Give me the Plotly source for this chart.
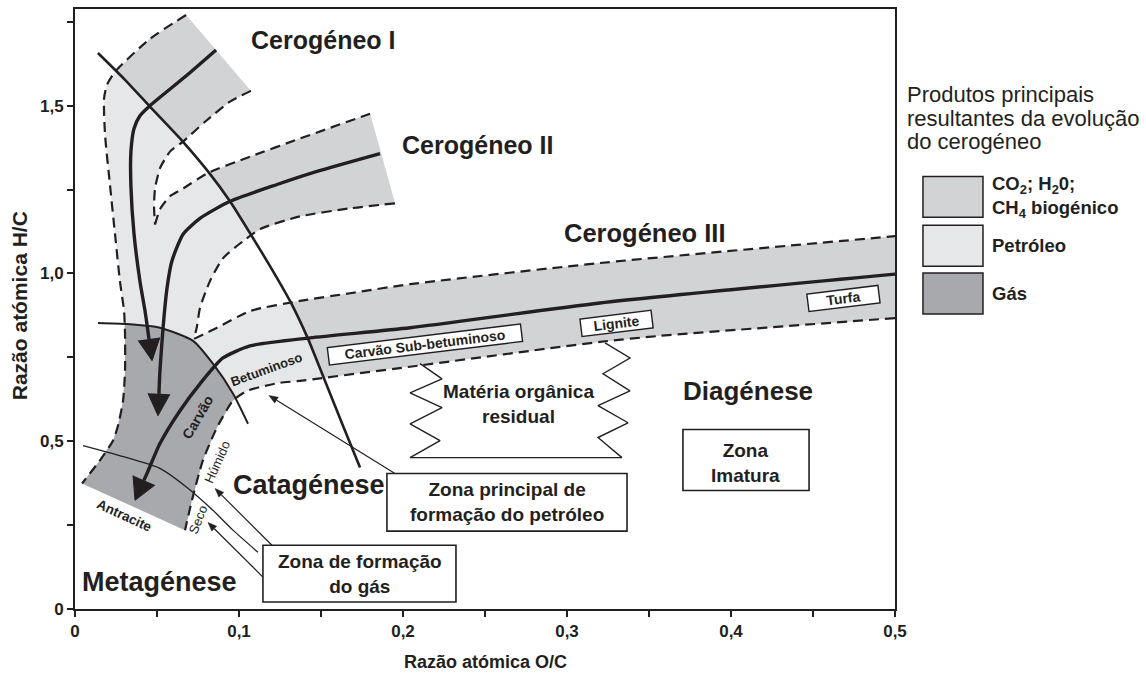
import math
import plotly.graph_objects as go

# ---------------------------------------------------------------------------
# Van Krevelen diagram: evolution paths of kerogen types I, II and III
# All coordinates are (O/C, H/C) atomic ratios.
# ---------------------------------------------------------------------------

# band boundaries (dashed)
type1_outer = [(0.0677, 1.770), (0.0457, 1.699), (0.0244, 1.601), (0.0195, 1.562),
               (0.0177, 1.521), (0.0183, 1.414), (0.0213, 1.265), (0.0244, 1.117),
               (0.0274, 0.977), (0.0299, 0.888), (0.0305, 0.820), (0.0305, 0.710),
               (0.0293, 0.621), (0.0262, 0.546), (0.0232, 0.502), (0.0152, 0.443),
               (0.0043, 0.374)]
type1_inner = [(0.1073, 1.544), (0.0945, 1.512), (0.0793, 1.452), (0.0659, 1.393),
               (0.0579, 1.363), (0.0518, 1.313), (0.0488, 1.253), (0.0482, 1.200),
               (0.0488, 1.146)]
type2_upper = [(0.0488, 1.146), (0.0518, 1.191), (0.0579, 1.230), (0.0659, 1.253),
               (0.0805, 1.298), (0.1067, 1.348), (0.1372, 1.402), (0.1799, 1.476)]
type2_lower = [(0.1951, 1.209), (0.1677, 1.194), (0.1372, 1.170), (0.1128, 1.132),
               (0.1024, 1.096), (0.0902, 1.045), (0.0823, 0.977), (0.0762, 0.897),
               (0.0744, 0.843), (0.0726, 0.805)]
type3_upper = [(0.0726, 0.805), (0.0866, 0.838), (0.1067, 0.888), (0.1372, 0.918),
               (0.1677, 0.941), (0.2043, 0.968), (0.3201, 1.031), (0.5000, 1.111)]
type3_lower = [(0.5000, 0.867), (0.3567, 0.814), (0.3201, 0.796), (0.2043, 0.722),
               (0.1372, 0.680), (0.1250, 0.674), (0.1159, 0.665), (0.1049, 0.650),
               (0.0963, 0.621), (0.0866, 0.541), (0.0780, 0.443), (0.0713, 0.324),
               (0.0671, 0.235)]

# evolution paths (solid, ending in arrows)
path_type1 = [(0.0860, 1.666), (0.0671, 1.586), (0.0457, 1.500), (0.0396, 1.470),
              (0.0360, 1.432), (0.0341, 1.363), (0.0341, 1.259), (0.0360, 1.117),
              (0.0396, 0.977), (0.0427, 0.888), (0.0470, 0.740)]
path_type2 = [(0.1860, 1.357), (0.1476, 1.304), (0.1232, 1.265), (0.0945, 1.215),
              (0.0762, 1.164), (0.0659, 1.117), (0.0591, 1.037), (0.0561, 0.956),
              (0.0537, 0.838), (0.0518, 0.710), (0.0506, 0.576)]
path_type3 = [(0.5000, 0.998), (0.3201, 0.912), (0.2043, 0.838), (0.1433, 0.808),
              (0.1067, 0.784), (0.0902, 0.748), (0.0762, 0.671), (0.0640, 0.591),
              (0.0518, 0.493), (0.0439, 0.404), (0.0366, 0.324)]

# zone limits
oil_window_limit = [(0.0140, 1.657), (0.0305, 1.577), (0.0457, 1.497), (0.0652, 1.396),
                    (0.0811, 1.304), (0.0945, 1.215), (0.1067, 1.120), (0.1189, 1.022),
                    (0.1311, 0.918), (0.1421, 0.805), (0.1524, 0.680), (0.1634, 0.546),
                    (0.1738, 0.422)]
gas_zone_limit = [(0.0140, 0.852), (0.0317, 0.849), (0.0518, 0.838), (0.0720, 0.799),
                  (0.0841, 0.731), (0.0963, 0.642), (0.1055, 0.552)]
wet_dry_limit = [(0.0049, 0.487), (0.0317, 0.451), (0.0518, 0.419), (0.0683, 0.362),
                 (0.0841, 0.294), (0.0963, 0.235), (0.1116, 0.169)]

# residual organic matter outline
residual_outline = [(0.2104, 0.731), (0.2238, 0.686), (0.2043, 0.644), (0.2238, 0.600),
                    (0.2043, 0.552), (0.2226, 0.502), (0.2043, 0.451), (0.3335, 0.451),
                    (0.3189, 0.511), (0.3372, 0.555), (0.3189, 0.606), (0.3384, 0.650),
                    (0.3220, 0.701), (0.3384, 0.748), (0.3232, 0.793)]

# pointer arrows (tail -> head)
oil_pointer = [(0.1951, 0.404), (0.1183, 0.636)]
gas_pointers = [[(0.1201, 0.190), (0.0854, 0.359)],
                [(0.1146, 0.095), (0.0811, 0.258)]]

x_ticks = [0, 0.1, 0.2, 0.3, 0.4, 0.5]
x_tick_text = ["0", "0,1", "0,2", "0,3", "0,4", "0,5"]
y_ticks = [0, 0.5, 1.0, 1.5]
y_tick_text = ["0", "0,5", "1,0", "1,5"]

legend_items = ["CO<sub>2</sub>; H<sub>2</sub>0;<br>CH<sub>4</sub> biogénico", "Petróleo", "Gás"]

# ---------------------------------------------------------------------------
FONT = "Liberation Sans, Arial, Helvetica, sans-serif"
INK = "#231f20"
GREY_MID = "#d1d3d4"
GREY_LIGHT = "#e6e7e8"
GREY_DARK = "#a7a9ac"

W, H = 1146, 677
MARGIN = dict(l=75, r=251, t=7, b=68)
X_RANGE = [0, 0.5]
Y_RANGE = [0, 1.788]
SX = (W - MARGIN["l"] - MARGIN["r"]) / (X_RANGE[1] - X_RANGE[0])
SY = (H - MARGIN["t"] - MARGIN["b"]) / (Y_RANGE[1] - Y_RANGE[0])


def seg_cross(p1, p2, q1, q2):
    d = (p2[0] - p1[0]) * (q2[1] - q1[1]) - (p2[1] - p1[1]) * (q2[0] - q1[0])
    if d == 0:
        return None
    t = ((q1[0] - p1[0]) * (q2[1] - q1[1]) - (q1[1] - p1[1]) * (q2[0] - q1[0])) / d
    u = ((q1[0] - p1[0]) * (p2[1] - p1[1]) - (q1[1] - p1[1]) * (p2[0] - p1[0])) / d
    if -1e-9 <= t <= 1 + 1e-9 and -1e-9 <= u <= 1 + 1e-9:
        return (p1[0] + t * (p2[0] - p1[0]), p1[1] + t * (p2[1] - p1[1]))
    return None


def crossing(P, Q):
    for i in range(len(P) - 1):
        for j in range(len(Q) - 1):
            pt = seg_cross(P[i], P[i + 1], Q[j], Q[j + 1])
            if pt is not None:
                return i, j, pt
    raise ValueError("curves do not cross")


def xs(pts):
    return [p[0] for p in pts]


def ys(pts):
    return [p[1] for p in pts]


def arrow_head(curve, length=22, half=11):
    (x0, y0), (x1, y1) = curve[-2], curve[-1]
    dx, dy = (x1 - x0) * SX, (y1 - y0) * SY
    n = math.hypot(dx, dy)
    ux, uy = dx / n, dy / n
    bx, by = x1 * SX - ux * length, y1 * SY - uy * length
    base = (bx / SX, by / SY)
    c1 = ((bx - uy * half) / SX, (by + ux * half) / SY)
    c2 = ((bx + uy * half) / SX, (by - ux * half) / SY)
    return base, [c1, (x1, y1), c2]


fig = go.Figure()


def fill_poly(pts, color, line_width=0, line_color=None):
    fig.add_trace(go.Scatter(x=xs(pts), y=ys(pts), mode="lines", fill="toself",
                             fillcolor=color,
                             line=dict(width=line_width, color=line_color or color),
                             hoverinfo="skip", showlegend=False))


def stroke(pts, width, dash="solid", color=INK, shape="spline"):
    fig.add_trace(go.Scatter(x=xs(pts), y=ys(pts), mode="lines",
                             line=dict(width=width, color=color, dash=dash,
                                       shape=shape, smoothing=0.6),
                             hoverinfo="skip", showlegend=False))


# whole band (oil colour)
band = (type1_outer + type3_lower[::-1] + type3_upper[::-1] + type2_lower[::-1]
        + type2_upper[::-1] + type1_inner[::-1])
fill_poly(band, GREY_LIGHT)

# immature parts (beyond the oil window limit)
i1, j1, p1 = crossing(type1_outer, oil_window_limit)
i2, j2, p2 = crossing(type1_inner, oil_window_limit)
fill_poly(type1_outer[:i1 + 1] + [p1] + oil_window_limit[j1 + 1:j2 + 1] + [p2]
          + type1_inner[:i2 + 1][::-1], GREY_MID)

i1, j1, p1 = crossing(type2_upper, oil_window_limit)
i2, j2, p2 = crossing(type2_lower, oil_window_limit)
fill_poly([p1] + type2_upper[i1 + 1:] + type2_lower[:i2 + 1] + [p2]
          + oil_window_limit[j1 + 1:j2 + 1][::-1], GREY_MID)

i1, j1, p1 = crossing(type3_upper, oil_window_limit)
i2, j2, p2 = crossing(type3_lower, oil_window_limit)
fill_poly([p1] + type3_upper[i1 + 1:] + type3_lower[:i2 + 1] + [p2]
          + oil_window_limit[j1 + 1:j2 + 1][::-1], GREY_MID)

# gas zone
a1, l1, q1 = crossing(gas_zone_limit, type1_outer)
a2, d2, q2 = crossing(gas_zone_limit, type3_lower)
fill_poly([q1] + gas_zone_limit[a1 + 1:a2 + 1] + [q2] + type3_lower[d2 + 1:]
          + type1_outer[l1 + 1:][::-1], GREY_DARK)

# dashed band limits
DASH = "10px,6px"
for curve in (type1_outer, type1_inner, type2_upper, type2_lower, type3_upper, type3_lower):
    stroke(curve, 2.2, DASH)

# zone limits
stroke(oil_window_limit, 2.6)
stroke(gas_zone_limit, 2.0)
stroke(wet_dry_limit, 1.3)

# evolution paths with arrow heads
for path, hl, hw in ((path_type1, 22, 11), (path_type2, 22, 11), (path_type3, 22, 12)):
    base, tri = arrow_head(path, hl, hw)
    stroke(path[:-1] + [base], 3.4)
    fill_poly(tri, INK, 1, INK)

# pointer arrows
for tail, head in [oil_pointer] + gas_pointers:
    base, tri = arrow_head([tail, head], 9, 3.5)
    stroke([tail, base], 1.2, shape="linear")
    fill_poly(tri, INK, 0.5, INK)

# residual organic matter
fig.add_trace(go.Scatter(x=xs(residual_outline), y=ys(residual_outline), mode="lines",
                         line=dict(width=1.4, color=INK), hoverinfo="skip",
                         showlegend=False))

annotations = []


def text(t, x, y, size, bold=True, angle=0, xref="x", yref="y", xanchor="center",
         yanchor="middle", color=INK, **kw):
    annotations.append(dict(text=t, x=x, y=y, xref=xref, yref=yref, showarrow=False,
                            xanchor=xanchor, yanchor=yanchor, textangle=angle,
                            font=dict(family=FONT, size=size, color=color,
                                      weight="bold" if bold else "normal"), **kw))


# titles of kerogen types and stages
text("Cerogéneo I", 0.1512, 1.696, 25)
text("Cerogéneo II", 0.2457, 1.384, 25)
text("Cerogéneo III", 0.3476, 1.120, 25.5)
text("Diagénese", 0.4104, 0.650, 26)
text("Catagénese", 0.1427, 0.371, 27)
text("Metagénese", 0.0518, 0.080, 27)
text("Matéria orgânica<br>residual", 0.2707, 0.612, 19)

# labels along the paths
text("Betuminoso", 0.1165, 0.713, 13, angle=-20)
text("Carvão", 0.0744, 0.570, 14, angle=-60)
text("Húmido", 0.0866, 0.437, 13, bold=False, angle=-66)
text("Seco", 0.0750, 0.267, 13, bold=False, angle=-68)
text("Antracite", 0.0299, 0.279, 13.5, angle=25)

# coal rank boxes
for t, x, y, w in (("Carvão Sub-betuminoso", 0.2134, 0.787, 193),
                   ("Lignite", 0.3299, 0.852, 70),
                   ("Turfa", 0.4683, 0.924, 70)):
    text(t, x, y, 14, angle=-7, bgcolor="white", bordercolor=INK, borderwidth=1.4,
         borderpad=0, width=w, height=16)

# zone boxes
shapes = []
for x0, x1, y0, y1 in ((0.1902, 0.3366, 0.232, 0.404),
                       (0.1146, 0.2323, 0.021, 0.190),
                       (0.3707, 0.4476, 0.353, 0.535)):
    shapes.append(dict(type="rect", xref="x", yref="y", x0=x0, x1=x1, y0=y0, y1=y1,
                       line=dict(color=INK, width=1.6), fillcolor="white", layer="above"))
text("Zona principal de<br>formação do petróleo", 0.2634, 0.318, 19)
text("Zona de formação<br>do gás", 0.1738, 0.104, 19)
text("Zona<br>Imatura", 0.4091, 0.434, 19)

# axis titles
text("Razão atómica O/C", 0.5, -0.088, 18, xref="paper", yref="paper")
text("Razão atómica H/C", -0.068, 0.505, 21, angle=-90, xref="paper", yref="paper")

# legend
for line, py in (("Produtos principais", 0.8571), ("resultantes da evolução", 0.8173),
                 ("do cerogéneo", 0.7791)):
    text(line, 1.0122, py, 22, bold=False, xref="paper", yref="paper", xanchor="left")
box_rows = [(0.6528, 0.7209), (0.5714, 0.6395), (0.4917, 0.5598)]
for (y0, y1), label, color in zip(box_rows, legend_items, (GREY_MID, GREY_LIGHT, GREY_DARK)):
    shapes.append(dict(type="rect", xref="paper", yref="paper", x0=1.0341, x1=1.1073,
                       y0=y0, y1=y1, line=dict(color=INK, width=1.5), fillcolor=color))
    text(label, 1.1159, (y0 + y1) / 2, 18.5, xref="paper", yref="paper", xanchor="left",
         align="left")

axis_common = dict(showgrid=False, zeroline=False, showline=True, mirror=True,
                   linecolor=INK, linewidth=2, ticks="outside", ticklen=6,
                   tickwidth=1.5, tickcolor=INK,
                   tickfont=dict(family=FONT, size=17, color=INK, weight="bold"))

fig.update_layout(
    width=W, height=H, margin=MARGIN,
    paper_bgcolor="white", plot_bgcolor="white",
    showlegend=False,
    xaxis=dict(range=X_RANGE, tickvals=x_ticks, ticktext=x_tick_text,
               minor=dict(dtick=0.05, tick0=0, ticks="outside", ticklen=6,
                          tickwidth=1.5, tickcolor=INK), **axis_common),
    yaxis=dict(range=Y_RANGE, tickvals=y_ticks, ticktext=y_tick_text,
               minor=dict(dtick=0.25, tick0=0, ticks="outside", ticklen=6,
                          tickwidth=1.5, tickcolor=INK), **axis_common),
    annotations=annotations,
    shapes=shapes,
)

fig.write_html("out.html")
